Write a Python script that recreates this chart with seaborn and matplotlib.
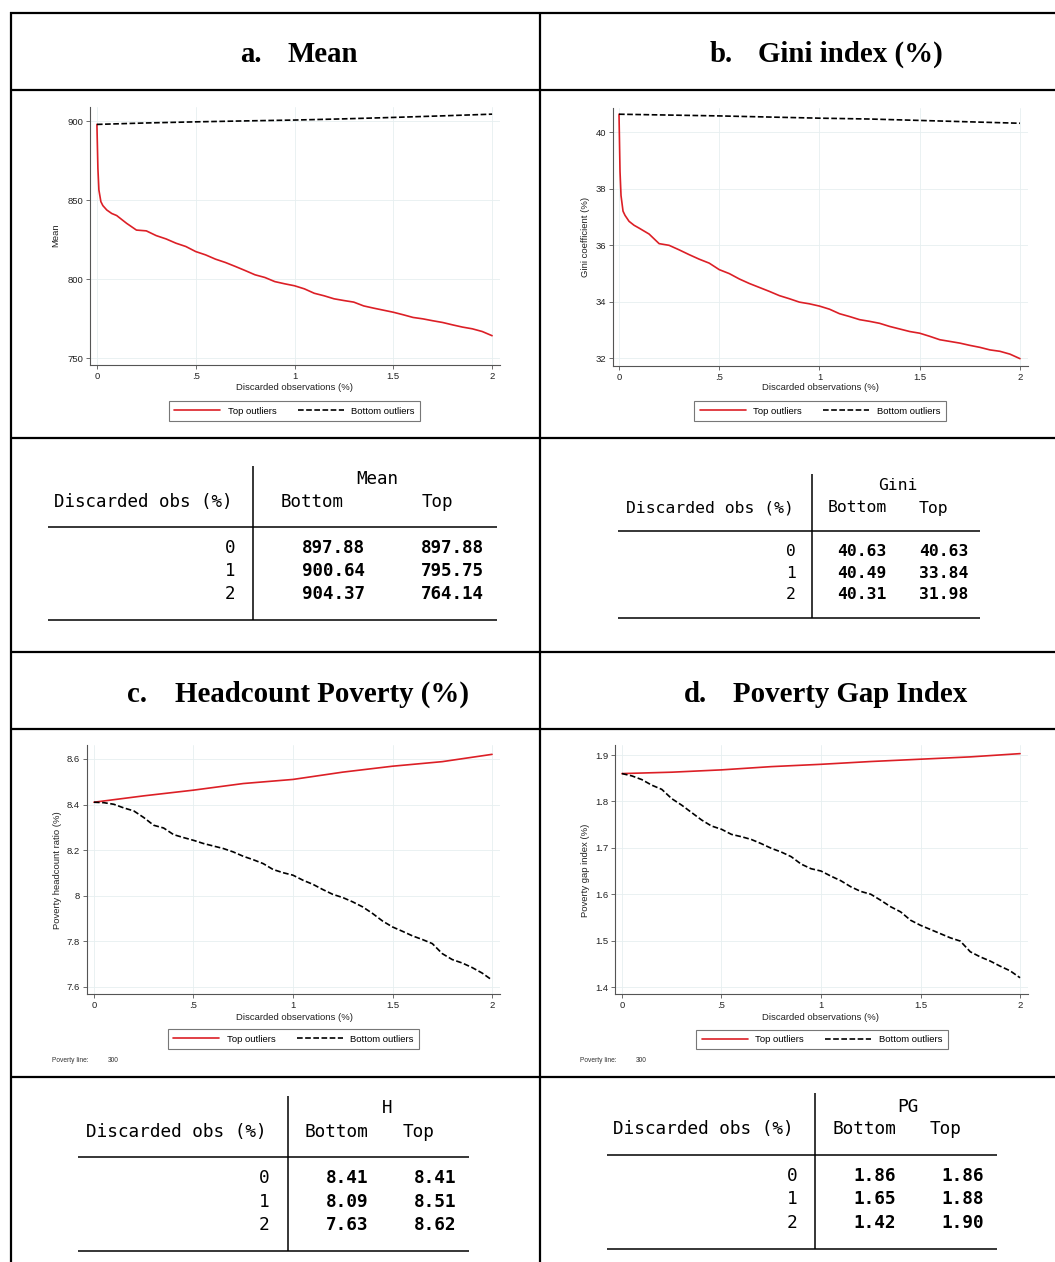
import matplotlib
matplotlib.use("Agg")
import matplotlib.pyplot as plt
import seaborn as sns
from matplotlib.lines import Line2D

W, H = 1055, 1262

# ---- curve data ----
x_early = [0, 0.005, 0.01, 0.02, 0.03, 0.05, 0.075, 0.1]
x_late = [0.15, 0.2, 0.25, 0.3, 0.35, 0.4, 0.45, 0.5, 0.55, 0.6, 0.65, 0.7,
          0.75, 0.8, 0.85, 0.9, 0.95, 1.0, 1.05, 1.1, 1.15, 1.2, 1.25, 1.3,
          1.35, 1.4, 1.45, 1.5, 1.55, 1.6, 1.65, 1.7, 1.75, 1.8, 1.85, 1.9,
          1.95, 2.0]
x_steps = [0, 0.05, 0.1] + x_late
x_quarter = [0, 0.25, 0.5, 0.75, 1.0, 1.25, 1.5, 1.75, 2.0]

mean_top = [897.88, 870.0, 856.4, 849.0, 846.5, 843.7, 841.5, 840.2,
            835.3, 831.0, 830.5, 827.5, 825.4, 822.7, 820.6, 817.4, 815.3,
            812.6, 810.5, 808.0, 805.4, 802.7, 801.0, 798.4, 797.0, 795.75,
            793.8, 791.0, 789.4, 787.5, 786.4, 785.4, 783.0, 781.6, 780.3,
            779.0, 777.4, 775.7, 774.8, 773.6, 772.5, 771.0, 769.6, 768.5,
            766.8, 764.14]
mean_bottom = [897.88, 898.8, 899.5, 900.1, 900.64, 901.4, 902.3, 903.3, 904.37]

gini_top = [40.63, 38.6, 37.75, 37.2, 37.05, 36.84, 36.70, 36.60,
            36.39, 36.05, 35.99, 35.83, 35.66, 35.50, 35.36, 35.13, 34.99,
            34.80, 34.64, 34.50, 34.36, 34.21, 34.10, 33.98, 33.92, 33.84,
            33.73, 33.57, 33.47, 33.36, 33.30, 33.23, 33.12, 33.03, 32.94,
            32.88, 32.77, 32.65, 32.59, 32.53, 32.45, 32.38, 32.29, 32.24,
            32.14, 31.98]
gini_bottom = [40.63, 40.60, 40.57, 40.53, 40.49, 40.46, 40.41, 40.36, 40.31]

head_top = [8.41, 8.438, 8.463, 8.492, 8.51, 8.542, 8.568, 8.588, 8.62]
head_bottom = [8.41, 8.408, 8.401, 8.385, 8.372, 8.343, 8.309, 8.297, 8.268,
               8.255, 8.243, 8.229, 8.218, 8.207, 8.192, 8.173, 8.158, 8.141,
               8.115, 8.101, 8.09, 8.068, 8.050, 8.027, 8.006, 7.992, 7.973,
               7.951, 7.922, 7.889, 7.863, 7.844, 7.824, 7.808, 7.790, 7.746,
               7.720, 7.705, 7.685, 7.661, 7.63]

gap_top = [1.86, 1.863, 1.868, 1.875, 1.88, 1.886, 1.891, 1.896, 1.903]
gap_bottom = [1.86, 1.855, 1.847, 1.835, 1.826, 1.806, 1.792, 1.776, 1.760,
              1.747, 1.740, 1.729, 1.724, 1.718, 1.709, 1.699, 1.691, 1.681,
              1.665, 1.655, 1.65, 1.639, 1.629, 1.616, 1.606, 1.600, 1.587,
              1.573, 1.562, 1.544, 1.533, 1.524, 1.515, 1.506, 1.499, 1.476,
              1.465, 1.456, 1.445, 1.435, 1.42]

# ---- tick labels ----
x_ticks = [0, 0.5, 1, 1.5, 2]
x_ticklabels = ["0", ".5", "1", "1.5", "2"]
mean_yticks = [750, 800, 850, 900]
gini_yticks = [32, 34, 36, 38, 40]
head_yticks = [7.6, 7.8, 8, 8.2, 8.4, 8.6]
head_yticklabels = ["7.6", "7.8", "8", "8.2", "8.4", "8.6"]
gap_yticks = [1.4, 1.5, 1.6, 1.7, 1.8, 1.9]

# ---- table data ----
table_rows = [0, 1, 2]
mean_tab_bottom = [897.88, 900.64, 904.37]
mean_tab_top = [897.88, 795.75, 764.14]
gini_tab_bottom = [40.63, 40.49, 40.31]
gini_tab_top = [40.63, 33.84, 31.98]
head_tab_bottom = [8.41, 8.09, 7.63]
head_tab_top = [8.41, 8.51, 8.62]
gap_tab_bottom = [1.86, 1.65, 1.42]
gap_tab_top = [1.86, 1.88, 1.90]

sns.set_style("white")
plt.rcParams["font.family"] = ["Liberation Sans", "DejaVu Sans"]
plt.rcParams["text.color"] = "black"

RED = "#dc1f26"
GREY = "#555555"
fig = plt.figure(figsize=(W / 100, H / 100), dpi=100)


def fx(x):
    return x / W


def fy(y):
    return 1 - y / H


def hline(x0, x1, y, lw):
    fig.add_artist(Line2D([fx(x0), fx(x1)], [fy(y), fy(y)], color="black",
                          lw=lw, solid_capstyle="butt"))


def vline(x, y0, y1, lw):
    fig.add_artist(Line2D([fx(x), fx(x)], [fy(y0), fy(y1)], color="black",
                          lw=lw, solid_capstyle="butt"))


def panel(rect, xlim, ylim, x_top, y_top, x_bot, y_bot, yticks, yticklabels,
          ylabel, ylab_pos, xlab_pos, leg_pos, footnote=None):
    l, t, r, b = rect
    ax = fig.add_axes([fx(l), fy(b), (r - l) / W, (b - t) / H])
    sns.lineplot(x=x_top, y=y_top, color=RED, lw=1.2, label="Top outliers",
                 ax=ax, errorbar=None)
    sns.lineplot(x=x_bot, y=y_bot, color="black", lw=1.2, ls=(0, (3.4, 1.5)),
                 label="Bottom outliers", ax=ax, errorbar=None)
    ax.set_xlim(*xlim)
    ax.set_ylim(*ylim)
    ax.set_xticks(x_ticks)
    ax.set_xticklabels(x_ticklabels)
    ax.set_yticks(yticks)
    ax.set_yticklabels(yticklabels)
    ax.grid(True, color="#e6eff0", lw=0.6)
    sns.despine(ax=ax)
    for s in ("left", "bottom"):
        ax.spines[s].set_color(GREY)
        ax.spines[s].set_linewidth(0.8)
    ax.tick_params(axis="both", labelsize=6.8, length=3, width=0.6,
                   color=GREY, pad=2, labelcolor="#222222",
                   bottom=True, left=True)
    fig.text(fx(xlab_pos[0]), fy(xlab_pos[1]), "Discarded observations (%)",
             ha="center", va="center", fontsize=6.8, color="#222222")
    fig.text(fx(ylab_pos[0]), fy(ylab_pos[1]), ylabel, rotation=90,
             ha="center", va="center", fontsize=6.8, color="#222222")
    leg = ax.legend(loc="center", bbox_to_anchor=(fx(leg_pos[0]), fy(leg_pos[1])),
                    bbox_transform=fig.transFigure, ncol=2, fontsize=6.8,
                    frameon=True, fancybox=False, edgecolor=GREY,
                    handlelength=4.9, handletextpad=0.8, columnspacing=2.2,
                    borderpad=0.55)
    leg.get_frame().set_linewidth(0.8)
    if footnote:
        fig.text(fx(footnote[0]), fy(footnote[1]), "Poverty line:",
                 ha="left", va="center", fontsize=4.8, color="#333333")
        fig.text(fx(footnote[0] + 56), fy(footnote[1]), "300",
                 ha="left", va="center", fontsize=4.8, color="#333333")
    return ax


panel((90, 107, 500, 365), (-0.035, 2.04), (745.6, 908.9),
      x_early + x_late, mean_top, x_quarter, mean_bottom,
      mean_yticks, [str(v) for v in mean_yticks], "Mean",
      (56, 235), (294, 388), (294.5, 411))
panel((613, 108, 1028, 366), (-0.030, 2.040), (31.72, 40.85),
      x_early + x_late, gini_top, x_quarter, gini_bottom,
      gini_yticks, [str(v) for v in gini_yticks], "Gini coefficient (%)",
      (585, 237), (820, 388), (820, 411))
panel((87, 745, 500, 994), (-0.035, 2.04), (7.569, 8.661),
      x_quarter, head_top, x_steps, head_bottom,
      head_yticks, head_yticklabels, "Poverty headcount ratio (%)",
      (57, 870), (294, 1017), (293.5, 1039), footnote=(52, 1060))
panel((615, 745, 1028, 994), (-0.035, 2.04), (1.385, 1.9216),
      x_quarter, gap_top, x_steps, gap_bottom,
      gap_yticks, [f"{v:.1f}" for v in gap_yticks], "Poverty gap index (%)",
      (585, 870), (821, 1017), (822, 1039.5), footnote=(580, 1060))

# ---- document grid ----
for y in (13, 90, 438, 652, 729, 1077):
    hline(10, 1055, y, 1.6)
vline(11, 12, 1262, 1.6)
vline(540, 12, 1262, 1.6)

# ---- panel titles ----
serif = ["Liberation Serif", "DejaVu Serif"]
titles = [("a.", 240, "Mean", 288, 62), ("b.", 710, "Gini index (%)", 758, 62),
          ("c.", 127, "Headcount Poverty (%)", 175, 702),
          ("d.", 684, "Poverty Gap Index", 733, 702)]
for lab, lx, txt, tx, by in titles:
    fig.text(fx(lx), fy(by), lab, ha="left", va="baseline", fontsize=20.8,
             fontweight="bold", family=serif)
    fig.text(fx(tx), fy(by), txt, ha="left", va="baseline", fontsize=20.8,
             fontweight="bold", family=serif)


# ---- tables ----
def table(size, stat, stat_x, head_y, stat_y, disc_x, bot_x, top_x, idx_r,
          bot_r, top_r, row_y, vals_bot, vals_top, vx, vy0, vy1, hx0, hx1,
          hy0, hy1):
    mono = ["DejaVu Sans Mono"]
    fig.text(fx(stat_x), fy(stat_y), stat, ha="center", va="center",
             fontsize=size, family=mono)
    fig.text(fx(disc_x), fy(head_y), "Discarded obs (%)", ha="left",
             va="center", fontsize=size, family=mono)
    fig.text(fx(bot_x), fy(head_y), "Bottom", ha="left", va="center",
             fontsize=size, family=mono)
    fig.text(fx(top_x), fy(head_y), "Top", ha="left", va="center",
             fontsize=size, family=mono)
    for r, y, vb, vt in zip(table_rows, row_y, vals_bot, vals_top):
        fig.text(fx(idx_r), fy(y), str(r), ha="right", va="center",
                 fontsize=size, family=mono)
        fig.text(fx(bot_r), fy(y), f"{vb:.2f}", ha="right", va="center",
                 fontsize=size, family=mono, fontweight="bold")
        fig.text(fx(top_r), fy(y), f"{vt:.2f}", ha="right", va="center",
                 fontsize=size, family=mono, fontweight="bold")
    vline(vx, vy0, vy1, 1.1)
    hline(hx0, hx1, hy0, 1.1)
    hline(hx0, hx1, hy1, 1.1)


table(12.6, "Mean", 377, 502, 479, 54, 281, 422, 235, 365, 484,
      (548, 571, 594), mean_tab_bottom, mean_tab_top,
      253, 466, 620, 48, 497, 527, 620)
table(11.8, "Gini", 898, 508, 485, 626, 828, 919, 796, 887, 968,
      (551, 573, 595), gini_tab_bottom, gini_tab_top,
      812, 474, 618, 618, 980, 531, 618)
table(12.8, "H", 387, 1132, 1108, 86, 305, 403, 269, 368, 456,
      (1178, 1202, 1225), head_tab_bottom, head_tab_top,
      288, 1096, 1251, 78, 469, 1157, 1251)
table(12.8, "PG", 908, 1129, 1107, 613, 833, 930, 797, 896, 984,
      (1176, 1199, 1223), gap_tab_bottom, gap_tab_top,
      815, 1093, 1249, 607, 997, 1155, 1249)

fig.savefig("out.png", dpi=100)
